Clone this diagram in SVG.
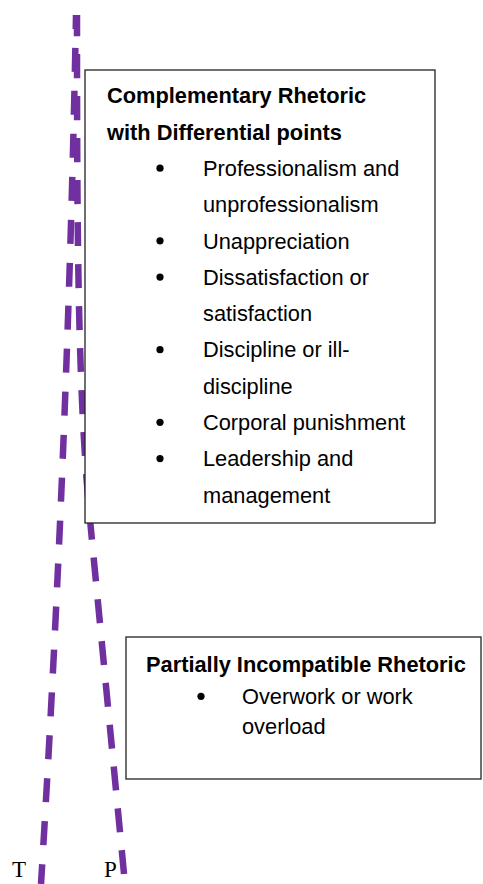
<svg xmlns="http://www.w3.org/2000/svg" width="483" height="884" viewBox="0 0 483 884">
<style>
.conn{fill:none;stroke:#7030A0;stroke-width:6.5;stroke-dasharray:24 18}
.box{fill:#fff;stroke:#222;stroke-width:1.3}
.t{font-family:"Liberation Sans",Arial,sans-serif;font-size:21.8px;fill:#000}
.b{font-weight:bold}
.dot{fill:#000}
.lbl{font-family:"Liberation Serif","Times New Roman",serif;font-size:23px;fill:#000}
</style>
<rect width="483" height="884" fill="#fff"/>
<g id="connectors">
<path class="conn" d="M76,15 Q68,443 41,884" style="stroke-dasharray:24 19;stroke-dashoffset:10"/>
<path class="conn" d="M77,15 C77,250 78,400 91,530 L125,884" style="stroke-dashoffset:3"/>
</g>
<g id="complementary">
<rect class="box" x="85" y="70" width="350" height="453"/>
<text class="t b" x="107" y="103.3">Complementary Rhetoric</text>
<text class="t b" x="107" y="139.6">with Differential points</text>
<circle class="dot" cx="160" cy="168.2" r="3.6"/>
<text class="t" x="203" y="175.9">Professionalism and</text>
<text class="t" x="203" y="212.2">unprofessionalism</text>
<circle class="dot" cx="160" cy="240.8" r="3.6"/>
<text class="t" x="203" y="248.5">Unappreciation</text>
<circle class="dot" cx="160" cy="277.1" r="3.6"/>
<text class="t" x="203" y="284.8">Dissatisfaction or</text>
<text class="t" x="203" y="321.1">satisfaction</text>
<circle class="dot" cx="160" cy="349.7" r="3.6"/>
<text class="t" x="203" y="357.4">Discipline or ill-</text>
<text class="t" x="203" y="393.7">discipline</text>
<circle class="dot" cx="160" cy="422.3" r="3.6"/>
<text class="t" x="203" y="430">Corporal punishment</text>
<circle class="dot" cx="160" cy="458.6" r="3.6"/>
<text class="t" x="203" y="466.3">Leadership and</text>
<text class="t" x="203" y="502.6">management</text>
</g>
<g id="partially">
<rect class="box" x="126" y="637" width="355" height="142"/>
<text class="t b" x="146" y="672">Partially Incompatible Rhetoric</text>
<circle class="dot" cx="201" cy="696.3" r="3.6"/>
<text class="t" x="242" y="704">Overwork or work</text>
<text class="t" x="242" y="734">overload</text>
</g>
<g id="labels">
<text class="lbl" x="12" y="877">T</text>
<text class="lbl" x="104" y="877">P</text>
</g>
</svg>
